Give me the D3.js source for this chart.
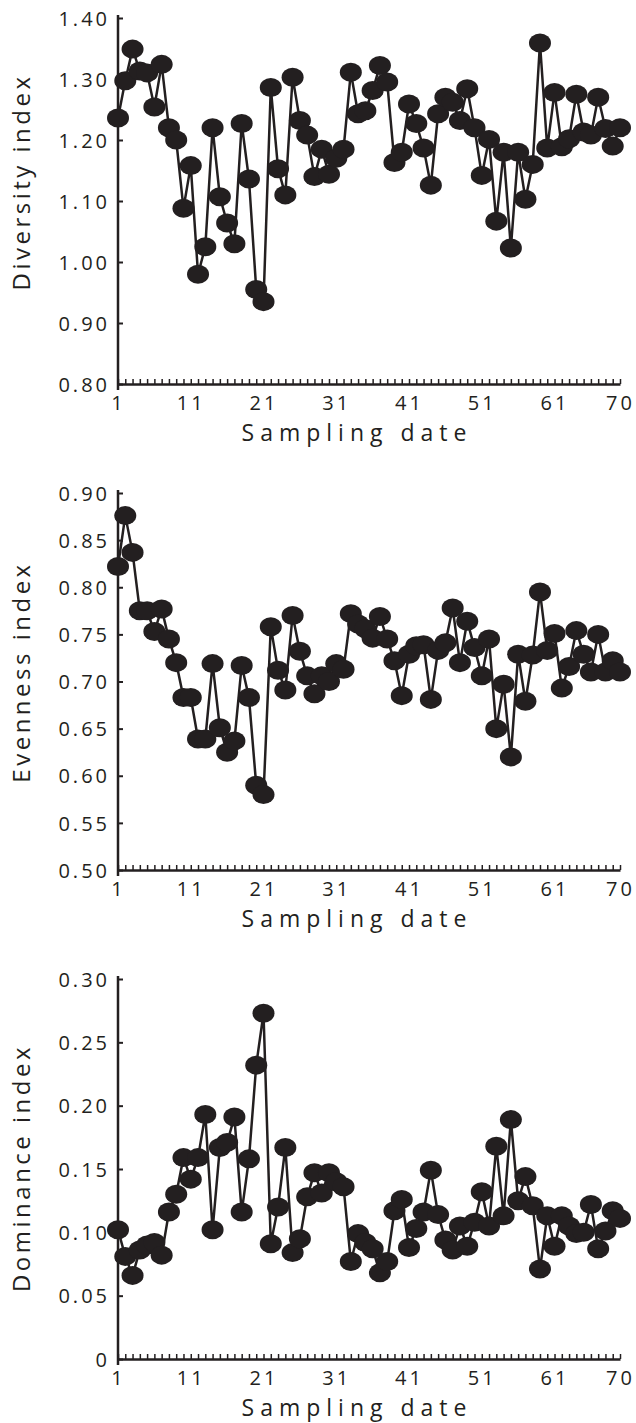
<!DOCTYPE html>
<html lang="en">
<head>
<meta charset="UTF-8">
<title>Diversity, evenness and dominance indices</title>
<script src="https://cdn.jsdelivr.net/npm/d3@7"></script>
<style>
    body {
        margin: 0;
        background: #ffffff;
    }
    svg text {
        font-family: "Open Sans", "Noto Sans", sans-serif;
        fill: #231f20;
    }
    .tick text {
        font-size: 20px;
        letter-spacing: 3px;
    }
    .axis-title {
        font-size: 24px;
        letter-spacing: 3.5px;
    }
    .x-title {
        font-size: 23px;
        letter-spacing: 6px;
    }
</style>
</head>
<body>
<div id="chart"></div>
<script>
    const width = 636;
    const height = 1423;
    const ink = "#231f20";

    // sampling dates 1..70 and the labelled ones
    const samplingDates = d3.range(1, 71);
    const xTickLabels = [1, 11, 21, 31, 41, 51, 61, 70];

    const diversity = [
        1.236, 1.297, 1.349, 1.313, 1.310, 1.254, 1.324, 1.220, 1.200, 1.088,
        1.158, 0.980, 1.025, 1.220, 1.107, 1.064, 1.030, 1.227, 1.136, 0.955,
        0.935, 1.286, 1.153, 1.110, 1.303, 1.232, 1.208, 1.140, 1.185, 1.144,
        1.170, 1.185, 1.311, 1.243, 1.248, 1.281, 1.322, 1.295, 1.163, 1.180,
        1.259, 1.227, 1.187, 1.126, 1.243, 1.270, 1.262, 1.232, 1.284, 1.220,
        1.142, 1.201, 1.067, 1.180, 1.023, 1.180, 1.103, 1.160, 1.359, 1.187,
        1.278, 1.189, 1.202, 1.275, 1.213, 1.208, 1.270, 1.219, 1.190, 1.220
    ];

    const evenness = [
        0.822, 0.876, 0.837, 0.775, 0.775, 0.753, 0.777, 0.745, 0.720, 0.683,
        0.683, 0.639, 0.639, 0.719, 0.651, 0.625, 0.637, 0.717, 0.683, 0.590,
        0.580, 0.758, 0.712, 0.691, 0.770, 0.732, 0.706, 0.687, 0.706, 0.700,
        0.719, 0.713, 0.772, 0.761, 0.756, 0.746, 0.769, 0.745, 0.722, 0.685,
        0.729, 0.738, 0.739, 0.681, 0.733, 0.741, 0.778, 0.720, 0.764, 0.736,
        0.706, 0.745, 0.650, 0.697, 0.620, 0.729, 0.679, 0.728, 0.795, 0.733,
        0.751, 0.693, 0.716, 0.754, 0.729, 0.710, 0.750, 0.710, 0.722, 0.710
    ];

    const dominance = [
        0.102, 0.081, 0.066, 0.086, 0.090, 0.092, 0.082, 0.116, 0.130, 0.159,
        0.142, 0.159, 0.193, 0.102, 0.167, 0.171, 0.191, 0.116, 0.158, 0.232,
        0.273, 0.091, 0.120, 0.167, 0.084, 0.095, 0.128, 0.147, 0.131, 0.147,
        0.140, 0.136, 0.077, 0.099, 0.092, 0.087, 0.068, 0.077, 0.117, 0.126,
        0.088, 0.103, 0.116, 0.149, 0.114, 0.094, 0.086, 0.105, 0.089, 0.108,
        0.132, 0.105, 0.168, 0.113, 0.189, 0.125, 0.144, 0.121, 0.071, 0.113,
        0.089, 0.113, 0.105, 0.099, 0.100, 0.122, 0.087, 0.101, 0.117, 0.111
    ];

    const diversityTicks = [0.80, 0.90, 1.00, 1.10, 1.20, 1.30, 1.40];
    const evennessTicks = [0.50, 0.55, 0.60, 0.65, 0.70, 0.75, 0.80, 0.85, 0.90];
    const dominanceTicks = [0, 0.05, 0.10, 0.15, 0.20, 0.25, 0.30];

    const panels = [
        { title: "Diversity index", values: diversity, ticks: diversityTicks, top: 18, bottom: 384, titleY: 182 },
        { title: "Evenness index", values: evenness, ticks: evennessTicks, top: 493, bottom: 870, titleY: 672 },
        { title: "Dominance index", values: dominance, ticks: dominanceTicks, top: 979, bottom: 1359, titleY: 1168 }
    ];

    const svg = d3.select("#chart").append("svg")
        .attr("width", width)
        .attr("height", height);

    const x = d3.scaleLinear().domain([1, 70]).range([118, 620]);
    const fmt = d3.format(".2f");

    panels.forEach(p => {
        const y = d3.scaleLinear()
            .domain(d3.extent(p.ticks))
            .range([p.bottom, p.top]);

        const g = svg.append("g");

        // y axis, ticks pointing inward
        const yAxis = g.append("g")
            .attr("transform", `translate(${x(1)},0)`)
            .call(d3.axisLeft(y)
                .tickValues(p.ticks)
                .tickSize(-5)
                .tickSizeOuter(0)
                .tickPadding(8)
                .tickFormat(d => d === 0 ? "0" : fmt(d)));
        yAxis.select(".domain").remove();
        yAxis.selectAll(".tick line").attr("stroke", ink).attr("stroke-width", 2);
        yAxis.selectAll(".tick text").attr("dy", "0.36em");

        g.append("line")
            .attr("x1", x(1)).attr("x2", x(1))
            .attr("y1", p.top - 3).attr("y2", p.bottom + 6)
            .attr("stroke", ink)
            .attr("stroke-width", 2.5);

        // x axis: a tick for every sampling date
        const xAxis = g.append("g")
            .attr("transform", `translate(0,${p.bottom})`)
            .call(d3.axisBottom(x)
                .tickValues(samplingDates)
                .tickSize(-5)
                .tickSizeOuter(0)
                .tickPadding(10)
                .tickFormat(d => xTickLabels.includes(d) ? d : ""));
        xAxis.select(".domain").attr("stroke", ink).attr("stroke-width", 2.5);
        xAxis.selectAll(".tick line").attr("stroke", ink).attr("stroke-width", 1.5);
        xAxis.selectAll(".tick text").attr("dy", "0.8em");

        g.append("text")
            .attr("class", "axis-title x-title")
            .attr("x", 357)
            .attr("y", p.bottom + 57)
            .attr("text-anchor", "middle")
            .text("Sampling date");

        g.append("text")
            .attr("class", "axis-title")
            .attr("transform", `translate(30,${p.titleY}) rotate(-90)`)
            .attr("text-anchor", "middle")
            .text(p.title);

        const line = d3.line()
            .x((d, i) => x(samplingDates[i]))
            .y(d => y(d));

        g.append("path")
            .datum(p.values)
            .attr("d", line)
            .attr("fill", "none")
            .attr("stroke", ink)
            .attr("stroke-width", 2.5);

        g.selectAll("ellipse")
            .data(p.values)
            .enter().append("ellipse")
            .attr("cx", (d, i) => x(samplingDates[i]))
            .attr("cy", d => y(d))
            .attr("rx", 11)
            .attr("ry", 9.5)
            .attr("fill", ink);
    });
</script>
</body>
</html>
